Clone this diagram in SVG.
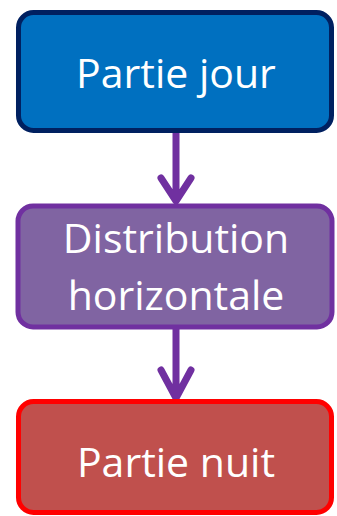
<svg xmlns="http://www.w3.org/2000/svg" width="337" height="516" viewBox="0 0 337 516">
<style>
.box{stroke-width:5}
.lbl{font-family:"Open Sans","Liberation Sans",sans-serif;font-size:41px;fill:#fff;text-anchor:middle}
.con{stroke:#7030A0;stroke-width:7;fill:none;stroke-linecap:round;stroke-linejoin:round}
</style>
<rect width="337" height="516" fill="#fff"/>
<g id="connectors">
<path class="con" d="M176 133 V200 M161 178 L176 201 L191 178"/>
<path class="con" d="M176 329 V397 M161 370 L176 398 L191 370"/>
</g>
<g id="partie-jour">
<rect class="box" x="18.5" y="12.5" width="313" height="118" rx="15" fill="#0070C0" stroke="#002060"/>
<text class="lbl" x="176" y="88">Partie jour</text>
</g>
<g id="distribution">
<rect class="box" x="18" y="206" width="314" height="121" rx="15" fill="#8064A2" stroke="#7030A0"/>
<text class="lbl" x="176" y="253">Distribution</text>
<text class="lbl" x="176" y="310">horizontale</text>
</g>
<g id="partie-nuit">
<rect class="box" x="18.5" y="401.5" width="313" height="111" rx="15" fill="#C0504D" stroke="#FF0000"/>
<text class="lbl" x="176" y="477">Partie nuit</text>
</g>
</svg>
